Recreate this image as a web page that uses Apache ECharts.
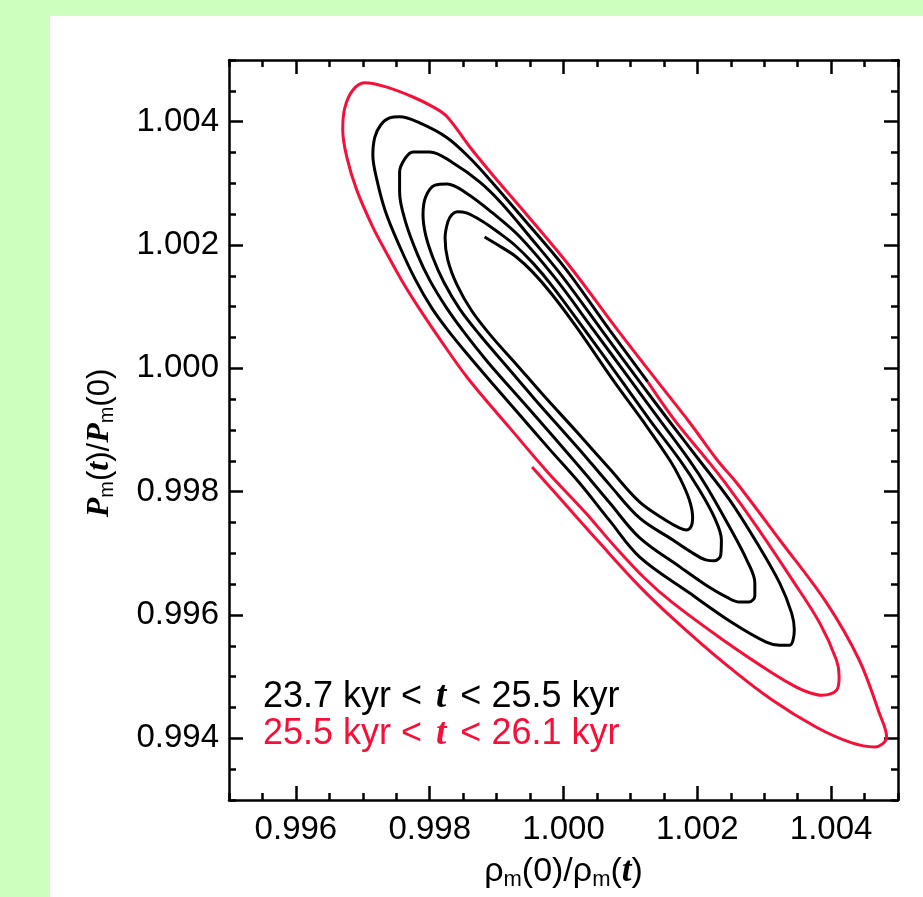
<!DOCTYPE html>
<html>
<head>
<meta charset="utf-8">
<script src="https://cdn.jsdelivr.net/npm/echarts@6/dist/echarts.min.js"></script>
<style>
  html, body { margin: 0; padding: 0; width: 923px; height: 897px; overflow: hidden; background: #cdffbf; }
  #panel { position: absolute; left: 50px; top: 16px; width: 873px; height: 881px; background: #ffffff; }
  #chart { width: 873px; height: 881px; }
</style>
</head>
<body>
<div id="panel"><div id="chart"></div></div>
<script>
// Trajectory in the (rho_m(0)/rho_m(t), P_m(t)/P_m(0)) plane, split into two time windows.
const earlyName = '23.7 kyr < t < 25.5 kyr';
const lateName = '25.5 kyr < t < 26.1 kyr';

// 23.7 kyr < t < 25.5 kyr (black), spiralling outwards from its inner end
const earlyRho = [
  0.99882, 0.99905, 0.99929, 0.99954, 0.99982, 1.00020, 1.00076, 1.00121, 1.00159, 1.00174, 1.00188, 1.00193, 1.00191, 1.00184,
  1.00174, 1.00154, 1.00114, 1.00069, 1.00024, 0.99967, 0.99930, 0.99893, 0.99863, 0.99841, 0.99827, 0.99823, 0.99827, 0.99833, 0.99841,
  0.99855, 0.99878, 0.99902, 0.99927, 0.99954, 0.99982, 1.00032, 1.00088, 1.00129, 1.00174, 1.00203, 1.00226, 1.00236, 1.00235, 1.00226,
  1.00214, 1.00188, 1.00163, 1.00114, 1.00069, 1.00024, 0.99957, 0.99912, 0.99875, 0.99845, 0.99821, 0.99805, 0.99794, 0.99790, 0.99794, 0.99808,
  0.99826, 0.99855, 0.99894, 0.99935, 0.99987, 1.00045, 1.00102, 1.00144, 1.00188, 1.00214, 1.00248, 1.00274, 1.00286, 1.00286, 1.00277,
  1.00263, 1.00244, 1.00211, 1.00174, 1.00114, 1.00069, 1.00024, 0.99947, 0.99887, 0.99851, 0.99824, 0.99800, 0.99782, 0.99764, 0.99755, 0.99755, 0.99763, 0.99775,
  0.99800, 0.99835, 0.99875, 0.99908, 0.99950, 0.99999, 1.00057, 1.00114, 1.00159, 1.00203, 1.00248, 1.00289, 1.00323, 1.00341, 1.00345, 1.00338,
  1.00323, 1.00303, 1.00253, 1.00188, 1.00114, 1.00069, 1.00024, 0.99979, 0.99935, 0.99894, 0.99857, 0.99827, 0.99803, 0.99779, 0.99755, 0.99734, 0.99721, 0.99715, 0.99718, 0.99727, 0.99740,
  0.99755, 0.99785, 0.99826, 0.99860, 0.99897, 0.99935, 1.00002, 1.00069, 1.00126
];
const earlyP = [
  1.00213, 1.00198, 1.00181, 1.00156, 1.00121, 1.00066, 0.99978, 0.99911, 0.99851, 0.99822, 0.99787, 0.99759, 0.99744, 0.99738,
  0.99741, 0.99753, 0.99783, 0.99837, 0.99892, 0.99960, 1.00006, 1.00051, 1.00093, 1.00135, 1.00176, 1.00211, 1.00237, 1.00249, 1.00254,
  1.00252, 1.00239, 1.00221, 1.00200, 1.00171, 1.00135, 1.00062, 0.99978, 0.99916, 0.99851, 0.99803, 0.99757, 0.99722, 0.99697, 0.99688,
  0.99689, 0.99704, 0.99722, 0.99757, 0.99811, 0.99868, 0.99950, 1.00007, 1.00054, 1.00096, 1.00140, 1.00179, 1.00216, 1.00249, 1.00278, 1.00297,
  1.00299, 1.00284, 1.00252, 1.00213, 1.00147, 1.00062, 0.99978, 0.99916, 0.99851, 0.99808, 0.99743, 0.99689, 0.99652, 0.99631, 0.99621,
  0.99621, 0.99629, 0.99650, 0.99678, 0.99725, 0.99782, 0.99840, 0.99936, 1.00010, 1.00059, 1.00100, 1.00143, 1.00184, 1.00237, 1.00286, 1.00318, 1.00340, 1.00351,
  1.00351, 1.00333, 1.00302, 1.00267, 1.00213, 1.00148, 1.00062, 0.99978, 0.99913, 0.99851, 0.99787, 0.99717, 0.99652, 0.99603, 0.99576, 0.99551,
  0.99551, 0.99556, 0.99587, 0.99636, 0.99694, 0.99753, 0.99814, 0.99869, 0.99924, 0.99975, 1.00022, 1.00062, 1.00098, 1.00143, 1.00198, 1.00254, 1.00306, 1.00346, 1.00375, 1.00395, 1.00406,
  1.00408, 1.00398, 1.00374, 1.00341, 1.00297, 1.00249, 1.00163, 1.00062, 0.99978
];

// 25.5 kyr < t < 26.1 kyr (red), continuing from the end of the black curve
const lateRho = [
  1.00126, 1.00166, 1.00215, 1.00244, 1.00289, 1.00342, 1.00383, 1.00408, 1.00412, 1.00408, 1.00386,
  1.00368, 1.00348, 1.00312, 1.00238, 1.00163, 1.00121, 1.00076, 1.00032, 0.99976, 0.99920, 0.99857, 0.99818, 0.99785, 0.99758, 0.99733, 0.99715, 0.99691, 0.99676, 0.99670, 0.99673, 0.99685, 0.99703,
  0.99736, 0.99775, 0.99805, 0.99826, 0.99860, 0.99897, 0.99935, 1.00009, 1.00081, 1.00141, 1.00188, 1.00230, 1.00259, 1.00323, 1.00393, 1.00442, 1.00472, 1.00483, 1.00477, 1.00465,
  1.00430, 1.00378, 1.00312, 1.00238, 1.00163, 1.00114, 1.00054, 0.99994, 0.99953
];
const lateP = [
  0.99978, 0.99916, 0.99851, 0.99811, 0.99743, 0.99657, 0.99587, 0.99527, 0.99500, 0.99478, 0.99470,
  0.99474, 0.99483, 0.99506, 0.99560, 0.99620, 0.99660, 0.99712, 0.99767, 0.99832, 0.99903, 0.99984, 1.00043, 1.00096, 1.00143, 1.00192, 1.00229, 1.00289, 1.00343, 1.00387, 1.00422, 1.00451, 1.00463,
  1.00456, 1.00440, 1.00424, 1.00408, 1.00359, 1.00310, 1.00262, 1.00166, 1.00062, 0.99978, 0.99913, 0.99851, 0.99814, 0.99722, 0.99620, 0.99527, 0.99441, 0.99402, 0.99391, 0.99386,
  0.99393, 0.99418, 0.99462, 0.99524, 0.99595, 0.99646, 0.99717, 0.99790, 0.99840
];

// Labelled tick values
const xTickLabels = [0.996, 0.998, 1.000, 1.002, 1.004];
const yTickLabels = [0.994, 0.996, 0.998, 1.000, 1.002, 1.004];

const RED = '#f5103a';
const SANS = "'Liberation Sans', Arial, Helvetica, sans-serif";
const SERIF = "'Liberation Serif', 'Times New Roman', serif";

const zip = (xs, ys) => xs.map((x, i) => [x, ys[i]]);

const AX = { color: '#000', width: 2.5 };
const labelled = v => Math.round(v * 2000) % 4 === 0;

const xNameRich = {
  n: { fontFamily: SANS, fontSize: 34, color: '#000' },
  s: { fontFamily: SANS, fontSize: 22, color: '#000', padding: [16, 0, 0, 0] },
  i: { fontFamily: SERIF, fontSize: 35, fontStyle: 'italic', fontWeight: 'bold', color: '#000' }
};
const yNameRich = {
  n: { fontFamily: SANS, fontSize: 31, color: '#000' },
  s: { fontFamily: SANS, fontSize: 20, color: '#000', padding: [14, 0, 0, 0] },
  i: { fontFamily: SERIF, fontSize: 32, fontStyle: 'italic', fontWeight: 'bold', color: '#000' },
  g: { fontSize: 10, width: 26 }
};

// Axes carrying the frame, labels and the short (0.0005) ticks
function fineAxis(extra) {
  return Object.assign({
    type: 'value',
    gridIndex: 0,
    interval: 0.0005,
    axisLine: { show: true, onZero: false, lineStyle: AX },
    axisTick: { show: true, inside: true, length: 7, lineStyle: AX },
    axisLabel: { show: false },
    splitLine: { show: false }
  }, extra);
}
// Axes carrying the long ticks at the labelled values
function majorAxis(extra, values) {
  return Object.assign({
    type: 'value',
    gridIndex: 1,
    axisLine: { show: false },
    axisTick: { show: true, inside: true, length: 14, lineStyle: AX, customValues: values },
    axisLabel: { show: false },
    splitLine: { show: false }
  }, extra);
}

const chart = echarts.init(document.getElementById('chart'), null, { renderer: 'canvas' });

chart.setOption({
  animation: false,
  backgroundColor: '#ffffff',
  grid: [
    { left: 179, right: 25, top: 44, bottom: 97 },
    { left: 179, right: 25, top: 44, bottom: 97 }
  ],
  xAxis: [
    fineAxis({
      position: 'bottom', min: 0.995, max: 1.005,
      axisLabel: {
        show: true, margin: 13, color: '#000', fontFamily: SANS, fontSize: 33,
        formatter: v => (labelled(v) ? v.toFixed(3) : '')
      },
      name: '{n|ρ}{s|m}{n|(0)/ρ}{s|m}{n|(}{i|t}{n|)}',
      nameLocation: 'middle', nameGap: 53,
      nameTextStyle: { rich: xNameRich }
    }),
    fineAxis({ position: 'top', min: 0.995, max: 1.005 }),
    majorAxis({ position: 'bottom', min: 0.995, max: 1.005 }, xTickLabels),
    majorAxis({ position: 'top', min: 0.995, max: 1.005 }, xTickLabels)
  ],
  yAxis: [
    fineAxis({
      position: 'left', min: 0.993, max: 1.005,
      axisLabel: {
        show: true, margin: 10, color: '#000', fontFamily: SANS, fontSize: 33,
        formatter: v => (labelled(v) ? v.toFixed(3) : '')
      },
      name: '{i|P}{s|m}{n|(}{i|t}{n|)/}{i|P}{s|m}{n|(0)}{g| }',
      nameLocation: 'middle', nameRotate: 90, nameGap: 112,
      nameTextStyle: { rich: yNameRich }
    }),
    fineAxis({ position: 'right', min: 0.993, max: 1.005 }),
    majorAxis({ position: 'left', min: 0.993, max: 1.005 }, yTickLabels),
    majorAxis({ position: 'right', min: 0.993, max: 1.005 }, yTickLabels)
  ],
  legend: {
    orient: 'vertical',
    left: 203,
    top: 658,
    icon: 'none',
    itemWidth: 0,
    itemHeight: 0,
    itemGap: 0,
    selectedMode: false,
    data: [
      { name: earlyName, textStyle: { color: '#000' } },
      { name: lateName, textStyle: { color: RED } }
    ],
    formatter: name => name.replace(' t ', ' {t|t} '),
    textStyle: {
      fontFamily: SANS, fontSize: 36, lineHeight: 37,
      rich: { t: { fontFamily: SERIF, fontSize: 37, fontStyle: 'italic', fontWeight: 'bold', lineHeight: 37, padding: [0, 4, 0, 4] } }
    }
  },
  series: [
    {
      name: earlyName, type: 'line', xAxisIndex: 0, yAxisIndex: 0,
      data: zip(earlyRho, earlyP), showSymbol: false, smooth: 0.35,
      lineStyle: { color: '#000', width: 3 }, itemStyle: { color: '#000' }
    },
    {
      name: lateName, type: 'line', xAxisIndex: 0, yAxisIndex: 0,
      data: zip(lateRho, lateP), showSymbol: false, smooth: 0.35,
      lineStyle: { color: RED, width: 3 }, itemStyle: { color: RED }
    }
  ]
});
</script>
</body>
</html>
